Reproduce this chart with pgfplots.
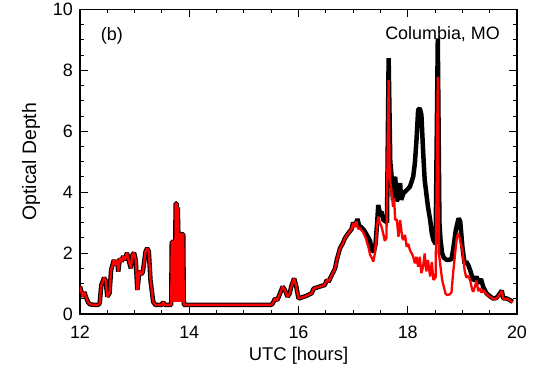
\documentclass[border=0pt]{standalone}
\usepackage{pgfplots}
\pgfplotsset{compat=1.18}
\usepackage{pgfplotstable}
\usepackage{fontspec}
\setmainfont{Liberation Sans}

\pgfplotstableread{
x y
12.00 0.90
12.03 0.70
12.05 0.57
12.08 0.72
12.11 0.55
12.15 0.38
12.18 0.32
12.25 0.30
12.33 0.30
12.36 0.35
12.39 0.95
12.44 1.19
12.47 1.10
12.50 0.57
12.54 0.68
12.57 1.45
12.62 1.77
12.65 1.60
12.68 1.77
12.70 1.39
12.73 1.83
12.76 1.72
12.79 1.90
12.82 1.77
12.86 2.01
12.89 1.77
12.93 1.50
12.96 1.94
12.99 2.01
13.02 1.77
13.05 0.79
13.09 1.42
13.12 1.30
13.15 1.38
13.20 2.05
13.23 2.16
13.26 2.05
13.29 1.12
13.34 0.40
13.38 0.30
13.50 0.30
13.52 0.40
13.55 0.30
13.67 0.30
13.68 2.37
13.70 2.37
13.71 0.40
13.72 2.37
13.73 2.37
13.74 0.40
13.75 3.63
13.77 3.63
13.78 0.40
13.79 3.50
13.80 2.62
13.82 0.40
13.83 2.62
13.86 2.62
13.87 0.40
13.88 2.62
13.89 2.62
13.90 0.30
15.50 0.30
15.53 0.35
15.57 0.51
15.61 0.45
15.65 0.62
15.71 0.90
15.75 0.79
15.80 0.57
15.84 0.68
15.87 0.92
15.92 1.17
15.96 0.90
16.00 0.51
16.07 0.55
16.15 0.60
16.24 0.68
16.28 0.84
16.34 0.87
16.42 0.92
16.48 0.95
16.52 1.12
16.55 1.06
16.61 1.28
16.67 1.50
16.70 1.77
16.76 2.16
16.81 2.32
16.85 2.49
16.91 2.65
16.97 2.78
17.00 3.00
17.04 2.90
17.08 3.12
17.11 2.90
17.15 2.85
17.20 2.75
17.25 2.60
17.31 2.40
17.34 2.10
17.38 2.05
17.41 2.30
17.44 3.00
17.46 3.58
17.49 3.31
17.52 3.36
17.55 3.09
17.59 3.05
17.62 3.00
17.65 8.40
17.68 5.00
17.70 4.62
17.73 3.74
17.77 4.51
17.80 3.70
17.83 3.85
17.86 4.30
17.88 3.75
17.92 3.96
17.98 4.07
18.04 4.18
18.10 4.51
18.13 4.95
18.16 5.71
18.19 6.70
18.22 6.76
18.25 6.54
18.28 5.39
18.31 4.40
18.34 3.96
18.37 3.52
18.41 3.09
18.44 2.65
18.47 2.43
18.51 2.30
18.55 9.05
18.58 3.00
18.60 2.43
18.63 1.99
18.66 1.85
18.71 1.78
18.75 1.78
18.80 1.80
18.83 2.10
18.88 2.76
18.93 3.14
18.96 3.05
19.00 2.21
19.04 1.66
19.07 1.72
19.11 1.60
19.14 1.45
19.20 1.12
19.23 1.12
19.26 1.23
19.30 1.00
19.34 1.15
19.38 0.90
19.44 0.68
19.50 0.59
19.56 0.51
19.62 0.52
19.69 0.68
19.72 0.77
19.75 0.51
19.81 0.51
19.87 0.46
19.92 0.40
}\blackdata

\pgfplotstableread{
x y
12.00 0.90
12.03 0.70
12.05 0.57
12.08 0.72
12.11 0.55
12.15 0.38
12.18 0.32
12.25 0.30
12.33 0.30
12.36 0.35
12.39 0.95
12.44 1.19
12.47 1.10
12.50 0.57
12.54 0.68
12.57 1.45
12.62 1.77
12.65 1.60
12.68 1.77
12.70 1.39
12.73 1.83
12.76 1.72
12.79 1.90
12.82 1.77
12.86 2.01
12.89 1.77
12.93 1.50
12.96 1.94
12.99 2.01
13.02 1.77
13.05 0.79
13.09 1.42
13.12 1.30
13.15 1.38
13.20 2.05
13.23 2.16
13.26 2.05
13.29 1.12
13.34 0.40
13.38 0.30
13.50 0.30
13.52 0.40
13.55 0.30
13.67 0.30
13.68 2.37
13.70 2.37
13.71 0.40
13.72 2.37
13.73 2.37
13.74 0.40
13.75 3.63
13.77 3.63
13.78 0.40
13.79 3.50
13.80 2.62
13.82 0.40
13.83 2.62
13.86 2.62
13.87 0.40
13.88 2.62
13.89 2.62
13.90 0.30
15.50 0.30
15.53 0.35
15.57 0.51
15.61 0.45
15.65 0.62
15.71 0.90
15.75 0.79
15.80 0.57
15.84 0.68
15.87 0.92
15.92 1.17
15.96 0.90
16.00 0.51
16.07 0.55
16.15 0.60
16.24 0.68
16.28 0.84
16.34 0.87
16.42 0.92
16.48 0.95
16.52 1.12
16.55 1.06
16.61 1.28
16.67 1.50
16.70 1.77
16.76 2.16
16.81 2.32
16.85 2.49
16.91 2.65
16.97 2.78
17.00 2.98
17.03 2.85
17.06 3.05
17.09 2.80
17.13 2.80
17.18 2.70
17.23 2.50
17.28 2.20
17.31 1.95
17.34 1.85
17.37 1.72
17.40 2.00
17.44 2.90
17.46 3.20
17.49 2.98
17.52 2.87
17.55 2.65
17.58 2.40
17.61 2.50
17.65 7.68
17.67 4.50
17.70 4.07
17.73 3.52
17.75 3.80
17.77 3.09
17.80 3.10
17.83 2.54
17.86 3.09
17.88 2.80
17.90 2.50
17.92 2.43
17.95 2.60
17.98 2.21
18.01 2.30
18.04 2.10
18.07 2.00
18.10 1.88
18.13 1.66
18.16 1.88
18.19 1.55
18.22 1.88
18.25 1.34
18.28 1.55
18.31 1.99
18.34 1.40
18.37 1.77
18.41 1.23
18.44 1.70
18.47 1.12
18.51 1.20
18.55 7.79
18.57 2.00
18.60 1.55
18.63 1.12
18.66 0.90
18.69 0.68
18.72 0.62
18.77 0.65
18.80 0.70
18.83 1.34
18.88 2.21
18.90 2.54
18.93 2.65
18.96 2.40
19.00 2.10
19.04 1.45
19.07 1.20
19.11 1.25
19.14 1.12
19.18 0.80
19.20 0.73
19.23 0.90
19.26 1.10
19.29 0.75
19.32 0.85
19.35 0.70
19.38 0.79
19.44 0.66
19.50 0.57
19.56 0.50
19.62 0.50
19.69 0.66
19.72 0.75
19.75 0.50
19.81 0.50
19.87 0.45
19.92 0.38
}\reddata

\begin{document}
\fontsize{18}{21}\selectfont
\begin{tikzpicture}
\useasboundingbox (-80bp,-51bp) rectangle (454bp,314bp);
\begin{axis}[
  at={(0,0)}, anchor=south west,
  scale only axis, width=437bp, height=304.5bp,
  xmin=12, xmax=20, ymin=0, ymax=10,
  xtick={12,14,...,20}, ytick={0,2,...,10},
  minor x tick num=3, minor y tick num=3,
  tick align=inside,
  major tick length=8bp, minor tick length=4bp,
  every tick/.style={black, line width=1bp},
  axis line style={line width=1.5bp},
  xlabel={UTC [hours]}, ylabel={Optical Depth},
  /pgf/number format/assume math mode=true,
  tick label style={font=\fontsize{18}{21}\selectfont},
  xticklabel style={anchor=center, yshift=-18.5bp},
  yticklabel style={xshift=-1bp},
  every axis x label/.style={at={(axis description cs:0.5,-0.1363)}, anchor=center, font=\fontsize{18.5}{22}\selectfont},
  every axis y label/.style={at={(axis description cs:-0.1121,0.5)}, anchor=center, rotate=90, font=\fontsize{19.5}{23}\selectfont},
]
\addplot[black, line width=4.5bp, line join=bevel] table[x=x,y=y] {\blackdata};
\addplot[red, line width=2.3bp, line join=bevel] table[x=x,y=y] {\reddata};
\node[anchor=west, inner sep=0pt, font=\fontsize{18}{21}\selectfont] at (axis cs:12.38,9.15) {(b)};
\node[anchor=east, inner sep=0pt, font=\fontsize{18}{21}\selectfont] at (axis cs:19.69,9.2) {Columbia, MO};
\end{axis}
\end{tikzpicture}
\end{document}
